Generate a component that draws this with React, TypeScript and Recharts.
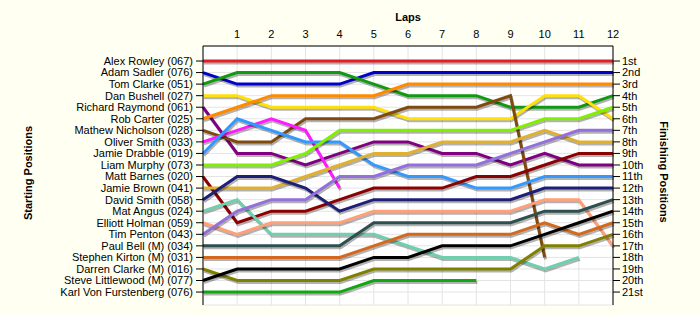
import { LineChart, Line, XAxis, YAxis, CartesianGrid } from 'recharts'

const laps = [0, 1, 2, 3, 4, 5, 6, 7, 8, 9, 10, 11, 12]
const lapTicks = [1, 2, 3, 4, 5, 6, 7, 8, 9, 10, 11, 12]
const positionTicks = [1, 2, 3, 4, 5, 6, 7, 8, 9, 10, 11, 12, 13, 14, 15, 16, 17, 18, 19, 20, 21]

const drivers = [
  'Alex Rowley (067)',
  'Adam Sadler (076)',
  'Tom Clarke (051)',
  'Dan Bushell (027)',
  'Richard Raymond (061)',
  'Rob Carter (025)',
  'Mathew Nicholson (028)',
  'Oliver Smith (033)',
  'Jamie Drabble (019)',
  'Liam Murphy (073)',
  'Matt Barnes (020)',
  'Jamie Brown (041)',
  'David Smith (058)',
  'Mat Angus (024)',
  'Elliott Holman (059)',
  'Tim Penton (043)',
  'Paul Bell (M) (034)',
  'Stephen Kirton (M) (031)',
  'Darren Clarke (M) (016)',
  'Steve Littlewood (M) (077)',
  'Karl Von Furstenberg (076)',
]

const finishLabels = [
  '1st', '2nd', '3rd', '4th', '5th', '6th', '7th', '8th', '9th', '10th',
  '11th', '12th', '13th', '14th', '15th', '16th', '17th', '18th', '19th', '20th', '21st',
]

const colors = [
  '#e31e24', '#0000cc', '#119a11', '#ffe10a', '#800080', '#ff8a00', '#7f4a10',
  '#ff1aff', '#3399ff', '#80f000', '#8b0000', '#e0b030', '#1f1f78', '#6fcfae',
  '#ffa07a', '#9370db', '#2f4f4f', '#d2691e', '#808000', '#000000', '#11a711',
]

// position per lap (lap 0 = grid), null once retired
const rowley = [1, 1, 1, 1, 1, 1, 1, 1, 1, 1, 1, 1, 1]
const sadler = [2, 3, 3, 3, 3, 2, 2, 2, 2, 2, 2, 2, 2]
const tomClarke = [3, 2, 2, 2, 2, 3, 4, 4, 4, 5, 5, 5, 4]
const bushell = [4, 4, 5, 5, 5, 5, 6, 6, 6, 6, 4, 4, 6]
const raymond = [5, 9, 9, 10, 9, 8, 8, 9, 9, 10, 9, 10, 10]
const carter = [6, 5, 4, 4, 4, 4, 3, 3, 3, 3, 3, 3, 3]
const nicholson = [7, 8, 8, 6, 6, 6, 5, 5, 5, 4, 18, null, null]
const oliverSmith = [8, 7, 6, 7, 12, null, null, null, null, null, null, null, null]
const drabble = [9, 6, 7, 8, 8, 10, 11, 11, 12, 12, 11, 11, 11]
const murphy = [10, 10, 10, 9, 7, 7, 7, 7, 7, 7, 6, 6, 5]
const barnes = [11, 15, 14, 14, 13, 12, 12, 12, 11, 11, 10, 9, 9]
const jamieBrown = [12, 12, 12, 11, 10, 9, 9, 8, 8, 8, 7, 8, 8]
const davidSmith = [13, 11, 11, 12, 14, 13, 13, 13, 13, 13, 12, 12, 12]
const angus = [14, 13, 16, 16, 16, 16, 17, 18, 18, 18, 19, 18, null]
const holman = [15, 16, 15, 15, 15, 14, 14, 14, 14, 14, 13, 13, 17]
const penton = [16, 14, 13, 13, 11, 11, 10, 10, 10, 9, 8, 7, 7]
const bell = [17, 17, 17, 17, 17, 15, 15, 15, 15, 15, 14, 14, 13]
const kirton = [18, 18, 18, 18, 18, 17, 16, 16, 16, 16, 15, 16, 15]
const darrenClarke = [19, 20, 20, 20, 20, 19, 19, 19, 19, 19, 17, 17, 16]
const littlewood = [20, 19, 19, 19, 19, 18, 18, 17, 17, 17, 16, 15, 14]
const furstenberg = [21, 21, 21, 21, 21, 20, 20, 20, 20, null, null, null, null]

const positions = [
  rowley, sadler, tomClarke, bushell, raymond, carter, nicholson, oliverSmith,
  drabble, murphy, barnes, jamieBrown, davidSmith, angus, holman, penton, bell,
  kirton, darrenClarke, littlewood, furstenberg,
]

const data = laps.map((lap, i) => {
  const row: Record<string, number | null> = { lap }
  positions.forEach((p, d) => {
    row['d' + d] = p[i]
  })
  return row
})

const font = '"Liberation Sans", Arial, sans-serif'
const yDomain = [-0.3, 22.12]

export default function App() {
  return (
    <div
      style={{
        position: 'absolute',
        left: 0,
        top: 0,
        width: 700,
        height: 315,
        background: '#fffff2',
        fontFamily: font,
      }}
    >
      <style>{`.recharts-line .recharts-curve { filter: drop-shadow(1px 2px 0px rgba(0,0,0,0.3)); }`}</style>
      <LineChart width={700} height={315} data={data} margin={{ top: 0, right: 0, bottom: 10, left: 0 }}>
        <CartesianGrid stroke="#e4e4e4" fill="#ffffff" yAxisId="left" />
        <XAxis
          dataKey="lap"
          type="number"
          domain={[0, 12]}
          ticks={lapTicks}
          orientation="top"
          height={46}
          axisLine={{ stroke: '#000' }}
          tickLine={false}
          tickMargin={2}
          tick={{ fill: '#000', fontSize: 11, fontFamily: font }}
        />
        <YAxis
          yAxisId="left"
          type="number"
          domain={yDomain}
          reversed
          ticks={positionTicks}
          interval={0}
          width={203}
          tickFormatter={(v: number) => drivers[v - 1]}
          axisLine={{ stroke: '#000' }}
          tickLine={{ stroke: '#000' }}
          tickSize={7}
          tickMargin={3}
          tick={{ fill: '#000', fontSize: 11, fontFamily: font }}
        />
        <YAxis
          yAxisId="right"
          orientation="right"
          type="number"
          domain={yDomain}
          reversed
          ticks={positionTicks}
          interval={0}
          width={87}
          tickFormatter={(v: number) => finishLabels[v - 1]}
          axisLine={{ stroke: '#000' }}
          tickLine={{ stroke: '#000' }}
          tickSize={7}
          tickMargin={2}
          tick={{ fill: '#000', fontSize: 11, fontFamily: font }}
        />
        {/* invisible series so the finishing axis gets its ticks */}
        <Line
          yAxisId="right"
          dataKey="d0"
          stroke="none"
          dot={false}
          activeDot={false}
          legendType="none"
          isAnimationActive={false}
        />
        {drivers.map((name, d) => (
          <Line
            key={name}
            yAxisId="left"
            type="linear"
            dataKey={'d' + d}
            name={name}
            stroke={colors[d]}
            strokeWidth={3}
            dot={false}
            activeDot={false}
            connectNulls={false}
            isAnimationActive={false}
          />
        ))}
      </LineChart>
      <div
        style={{
          position: 'absolute',
          left: 408,
          top: 17,
          transform: 'translate(-50%, -50%)',
          fontSize: 11,
          fontWeight: 'bold',
        }}
      >
        Laps
      </div>
      <div
        style={{
          position: 'absolute',
          left: 28,
          top: 173,
          transform: 'translate(-50%, -50%) rotate(-90deg)',
          fontSize: 11,
          fontWeight: 'bold',
          whiteSpace: 'nowrap',
        }}
      >
        Starting Positions
      </div>
      <div
        style={{
          position: 'absolute',
          left: 664,
          top: 172,
          transform: 'translate(-50%, -50%) rotate(90deg)',
          fontSize: 11,
          fontWeight: 'bold',
          whiteSpace: 'nowrap',
        }}
      >
        Finishing Positions
      </div>
    </div>
  )
}
